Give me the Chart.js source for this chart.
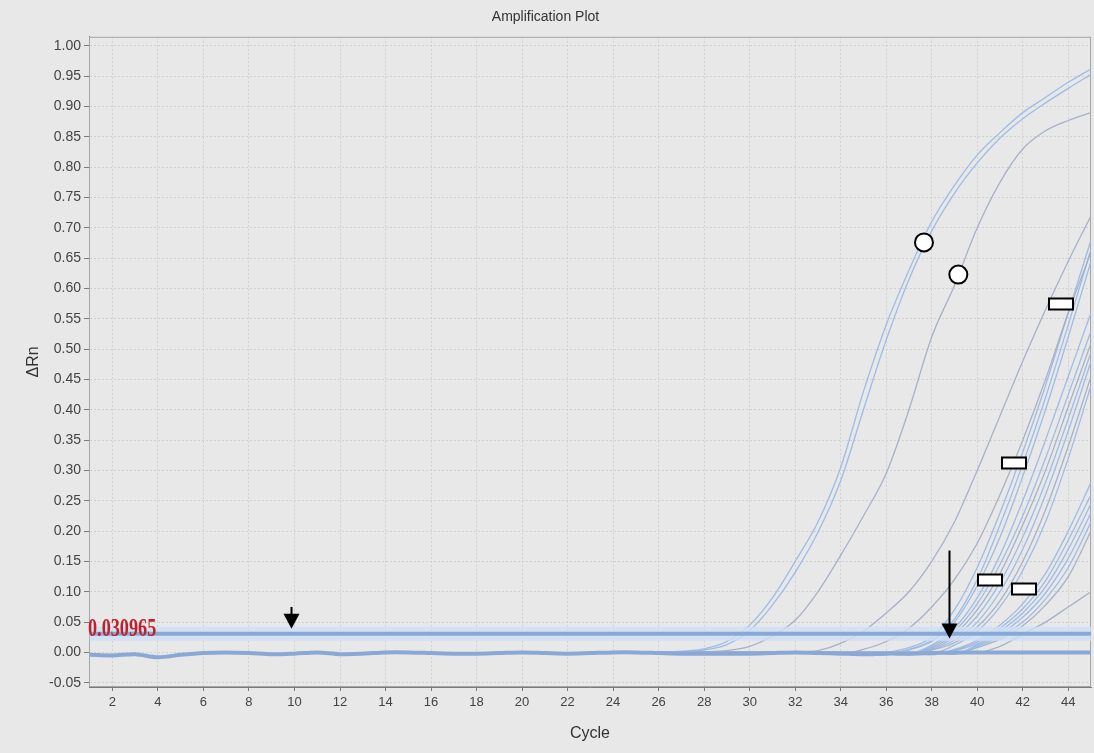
<!DOCTYPE html>
<html lang="en">
<head>
  <meta charset="UTF-8" />
  <title>Amplification Plot</title>
  <script src="https://cdn.jsdelivr.net/npm/chart.js"></script>
  <style>
    html, body {
      margin: 0;
      padding: 0;
      background: #e8e8e8;
    }
    #wrap {
      width: 1094px;
      height: 753px;
      position: relative;
    }
  </style>
</head>
<body>
  <div id="wrap"><canvas id="ampChart"></canvas></div>

  <script>
    // tick positions
    const xTicks = [2, 4, 6, 8, 10, 12, 14, 16, 18, 20, 22, 24, 26, 28, 30, 32, 34, 36, 38, 40, 42, 44];
    const yTicks = [-0.05, 0, 0.05, 0.10, 0.15, 0.20, 0.25, 0.30, 0.35, 0.40, 0.45, 0.50,
                    0.55, 0.60, 0.65, 0.70, 0.75, 0.80, 0.85, 0.90, 0.95, 1.00];

    const cycles = [1, 2, 3, 4, 5, 6, 7, 8, 9, 10, 11, 12, 13, 14, 15, 16, 17, 18, 19, 20, 21, 22, 23,
                    24, 25, 26, 27, 28, 29, 30, 31, 32, 33, 34, 35, 36, 37, 38, 39, 40, 41, 42, 43, 44, 45];
    const lateCycles = [25, 26, 27, 28, 29, 30, 31, 32, 33, 34, 35, 36, 37, 38, 39, 40, 41, 42, 43, 44, 45];

    const thresholdValue = 0.030965;

    // all wells before amplification, cycles 1..45
    const baseline = [-0.004, -0.005, -0.003, -0.008, -0.004, -0.001, 0, -0.001, -0.003, -0.002, 0, -0.003,
                      -0.002, 0, 0, -0.001, -0.002, -0.002, -0.001, 0, -0.001, -0.002, -0.001, 0, 0, -0.001,
                      -0.002, -0.002, -0.002, -0.002, -0.001, 0, -0.001, -0.002, -0.003, -0.002, -0.002,
                      -0.001, 0, 0, 0, 0, 0, 0, 0];

    // amplification curves, cycles 25..45
    const curveA1 = [0, 0, 0.002, 0.006, 0.018, 0.045, 0.09, 0.15, 0.215, 0.305, 0.43, 0.54, 0.63, 0.71, 0.77, 0.82, 0.857, 0.89, 0.915, 0.94, 0.962];
    const curveA2 = [0, 0, 0.001, 0.004, 0.013, 0.036, 0.078, 0.132, 0.198, 0.283, 0.40, 0.515, 0.615, 0.695, 0.757, 0.807, 0.848, 0.88, 0.906, 0.93, 0.953];
    const curveB  = [0, 0, 0, 0.001, 0.003, 0.01, 0.027, 0.053, 0.10, 0.16, 0.225, 0.295, 0.40, 0.52, 0.605, 0.70, 0.775, 0.83, 0.86, 0.877, 0.89];
    const curveC1 = [0, 0, 0, 0, 0, 0, 0, 0, 0.003, 0.015, 0.035, 0.065, 0.10, 0.15, 0.215, 0.30, 0.39, 0.48, 0.565, 0.645, 0.72];
    const curveC2 = [0, 0, 0, 0, 0, 0, 0, 0, 0, -0.002, 0.005, 0.018, 0.04, 0.075, 0.12, 0.18, 0.26, 0.35, 0.45, 0.56, 0.66];
    const curveC3 = [0, 0, 0, 0, 0, 0, 0, 0, 0, -0.003, -0.003, 0, 0.008, 0.025, 0.07, 0.14, 0.23, 0.33, 0.44, 0.56, 0.68];
    const curveC4 = [0, 0, 0, 0, 0, 0, 0, 0, 0, 0, 0, -0.002, 0.005, 0.02, 0.055, 0.12, 0.21, 0.31, 0.42, 0.54, 0.665];
    const curveC5 = [0, 0, 0, 0, 0, 0, 0, 0, 0, 0, 0, -0.004, 0.004, 0.018, 0.05, 0.11, 0.19, 0.29, 0.40, 0.52, 0.645];
    const curveC6 = [0, 0, 0, 0, 0, 0, 0, 0, 0, 0, 0, 0, -0.002, 0.012, 0.04, 0.09, 0.16, 0.25, 0.35, 0.455, 0.56];
    const curveC7 = [0, 0, 0, 0, 0, 0, 0, 0, 0, 0, 0, 0, -0.003, 0.01, 0.035, 0.08, 0.145, 0.225, 0.32, 0.425, 0.53];
    const curveC8 = [0, 0, 0, 0, 0, 0, 0, 0, 0, 0, 0, 0, 0, 0.008, 0.03, 0.07, 0.13, 0.21, 0.30, 0.405, 0.51];
    const curveC9 = [0, 0, 0, 0, 0, 0, 0, 0, 0, 0, 0, 0, -0.002, 0.006, 0.025, 0.06, 0.115, 0.19, 0.28, 0.385, 0.495];
    const curveC10 = [0, 0, 0, 0, 0, 0, 0, 0, 0, 0, 0, 0, -0.004, 0.005, 0.02, 0.05, 0.10, 0.17, 0.26, 0.365, 0.48];
    const curveC11 = [0, 0, 0, 0, 0, 0, 0, 0, 0, 0, 0, 0, -0.003, 0.004, 0.016, 0.042, 0.085, 0.15, 0.235, 0.34, 0.455];
    const curveC12 = [0, 0, 0, 0, 0, 0, 0, 0, 0, 0, 0, 0, 0, -0.002, 0.012, 0.035, 0.075, 0.135, 0.215, 0.32, 0.44];
    const curveD1 = [0, 0, 0, 0, 0, 0, 0, 0, 0, 0, 0, 0, 0, -0.003, 0.005, 0.02, 0.045, 0.08, 0.13, 0.20, 0.28];
    const curveD2 = [0, 0, 0, 0, 0, 0, 0, 0, 0, 0, 0, 0, 0, -0.004, 0.004, 0.017, 0.04, 0.072, 0.118, 0.185, 0.26];
    const curveD3 = [0, 0, 0, 0, 0, 0, 0, 0, 0, 0, 0, 0, 0, -0.002, 0.003, 0.014, 0.035, 0.065, 0.108, 0.17, 0.245];
    const curveD4 = [0, 0, 0, 0, 0, 0, 0, 0, 0, 0, 0, 0, 0, 0, -0.002, 0.012, 0.03, 0.058, 0.098, 0.155, 0.23];
    const curveD5 = [0, 0, 0, 0, 0, 0, 0, 0, 0, 0, 0, 0, 0, 0, -0.003, 0.01, 0.026, 0.05, 0.088, 0.14, 0.215];
    const curveD6 = [0, 0, 0, 0, 0, 0, 0, 0, 0, 0, 0, 0, 0, 0, -0.002, 0.008, 0.022, 0.044, 0.078, 0.125, 0.20];
    const curveE  = [0, 0, 0, 0, 0, 0, 0, 0, 0, 0, 0, 0, 0, 0, 0, 0, 0.01, 0.03, 0.05, 0.075, 0.10];

    // hand-drawn marks on the figure, in data units
    const circleMarks = [{ cycle: 37.66, value: 0.676 }, { cycle: 39.17, value: 0.623 }];
    const boxMarks = [
      { cycle: 43.69, value: 0.574 },
      { cycle: 41.62, value: 0.313 },
      { cycle: 40.57, value: 0.120 },
      { cycle: 42.06, value: 0.104 }
    ];
    const arrowMarks = [
      { cycle: 9.83, from: 0.075, to: 0.039 },
      { cycle: 38.76, from: 0.168, to: 0.023 }
    ];

    const blueLine = 'rgba(150,183,228,0.9)';
    const greyLine = 'rgba(160,172,196,0.9)';

    const curves = [
      [curveA1, blueLine], [curveA2, blueLine], [curveB, greyLine],
      [curveC1, greyLine], [curveC2, greyLine], [curveC3, blueLine], [curveC4, blueLine],
      [curveC5, blueLine], [curveC6, blueLine], [curveC7, blueLine], [curveC8, greyLine],
      [curveC9, blueLine], [curveC10, blueLine], [curveC11, greyLine], [curveC12, blueLine],
      [curveD1, blueLine], [curveD2, blueLine], [curveD3, blueLine], [curveD4, blueLine],
      [curveD5, blueLine], [curveD6, greyLine], [curveE, greyLine]
    ];

    const datasets = [
      {
        data: [{ x: 1, y: thresholdValue }, { x: 45, y: thresholdValue }],
        borderColor: '#8aa8d6', borderWidth: 4, pointRadius: 0
      },
      {
        data: cycles.map((c, i) => ({ x: c, y: baseline[i] })),
        borderColor: '#8aa8d6', borderWidth: 4, pointRadius: 0, tension: 0.3
      },
      {
        data: [{ x: 1, y: thresholdValue }, { x: 45, y: thresholdValue }],
        borderColor: 'rgba(205,222,246,0.8)', borderWidth: 14, pointRadius: 0
      }
    ];
    curves.forEach(([vals, color]) => {
      datasets.push({
        data: lateCycles.map((c, i) => ({ x: c, y: vals[i] })),
        borderColor: color,
        borderWidth: 1.3,
        pointRadius: 0,
        cubicInterpolationMode: 'monotone'
      });
    });

    const marksPlugin = {
      id: 'marks',
      beforeDatasetsDraw(chart) {
        const { ctx, chartArea: a } = chart;
        ctx.save();
        ctx.strokeStyle = '#a5a5a5';
        ctx.lineWidth = 1;
        ctx.strokeRect(a.left + 0.5, a.top + 0.5, a.right - a.left - 1, a.bottom - a.top - 1);
        ctx.restore();
      },
      afterDatasetsDraw(chart) {
        const { ctx, chartArea: a, scales: { x, y } } = chart;
        ctx.save();

        // threshold value label
        const ty = y.getPixelForValue(thresholdValue);
        ctx.save();
        ctx.translate(a.left - 1, ty + 2);
        ctx.scale(0.7, 1);
        ctx.font = 'bold 26px "Liberation Serif", "DejaVu Serif", serif';
        ctx.fillStyle = '#bf2129';
        ctx.textBaseline = 'alphabetic';
        ctx.fillText(thresholdValue.toFixed(6), 0, 0);
        ctx.restore();

        // arrows
        ctx.fillStyle = '#000';
        ctx.strokeStyle = '#000';
        arrowMarks.forEach(m => {
          const px = Math.round(x.getPixelForValue(m.cycle)) + 0.5;
          const y0 = y.getPixelForValue(m.from);
          const y1 = y.getPixelForValue(m.to);
          ctx.lineWidth = 2;
          ctx.beginPath();
          ctx.moveTo(px, y0);
          ctx.lineTo(px, y1 - 12);
          ctx.stroke();
          ctx.beginPath();
          ctx.moveTo(px - 8, y1 - 15);
          ctx.lineTo(px + 8, y1 - 15);
          ctx.lineTo(px, y1);
          ctx.closePath();
          ctx.fill();
        });

        // circles
        ctx.lineWidth = 2;
        circleMarks.forEach(m => {
          ctx.beginPath();
          ctx.arc(x.getPixelForValue(m.cycle), y.getPixelForValue(m.value), 9, 0, Math.PI * 2);
          ctx.fillStyle = '#fff';
          ctx.fill();
          ctx.stroke();
        });

        // boxes
        boxMarks.forEach(m => {
          const cx = Math.round(x.getPixelForValue(m.cycle));
          const cy = Math.round(y.getPixelForValue(m.value));
          ctx.fillStyle = '#fff';
          ctx.fillRect(cx - 12, cy - 5.5, 24, 11);
          ctx.strokeRect(cx - 12, cy - 5.5, 24, 11);
        });

        ctx.restore();
      }
    };

    const narrowFont = '"Liberation Sans Narrow", "Liberation Sans", Arial, sans-serif';
    const plainFont = '"Liberation Sans", Arial, sans-serif';

    new Chart(document.getElementById('ampChart'), {
      type: 'line',
      data: { datasets },
      options: {
        responsive: true,
        maintainAspectRatio: false,
        animation: false,
        layout: { padding: { left: 0, right: 3, top: 0, bottom: 0 } },
        plugins: {
          legend: { display: false },
          tooltip: { enabled: false },
          title: {
            display: true,
            text: 'Amplification Plot',
            color: '#333',
            font: { family: narrowFont, size: 14, weight: 'normal' },
            padding: { top: 9, bottom: 11 }
          }
        },
        scales: {
          x: {
            type: 'linear',
            min: 0.97,
            max: 45,
            afterBuildTicks: s => { s.ticks = xTicks.map(v => ({ value: v })); },
            afterFit: s => { s.height = 66; },
            ticks: {
              color: '#444',
              padding: 4,
              maxRotation: 0,
              font: { family: narrowFont, size: 13 }
            },
            grid: {
              color: '#d0d0d0',
              tickColor: '#7a7a7a',
              tickLength: 4,
              tickBorderDash: []
            },
            border: { color: '#7a7a7a', width: 1, dash: [2, 2] },
            title: {
              display: true,
              text: 'Cycle',
              color: '#333',
              font: { family: plainFont, size: 16 },
              padding: { top: 0, bottom: 10 }
            }
          },
          y: {
            min: -0.057,
            max: 1.015,
            afterBuildTicks: s => { s.ticks = yTicks.map(v => ({ value: v })); },
            afterFit: s => { s.width = 89; },
            ticks: {
              color: '#444',
              padding: 3,
              font: { family: plainFont, size: 14 },
              callback: v => v.toFixed(2)
            },
            grid: {
              color: '#d0d0d0',
              tickColor: '#7a7a7a',
              tickLength: 5,
              tickBorderDash: []
            },
            border: { color: '#7a7a7a', width: 1, dash: [2, 2] },
            title: {
              display: true,
              text: 'ΔRn',
              color: '#333',
              font: { family: plainFont, size: 16 },
              padding: { top: 24, bottom: 0 }
            }
          }
        }
      },
      plugins: [marksPlugin]
    });
  </script>
</body>
</html>
